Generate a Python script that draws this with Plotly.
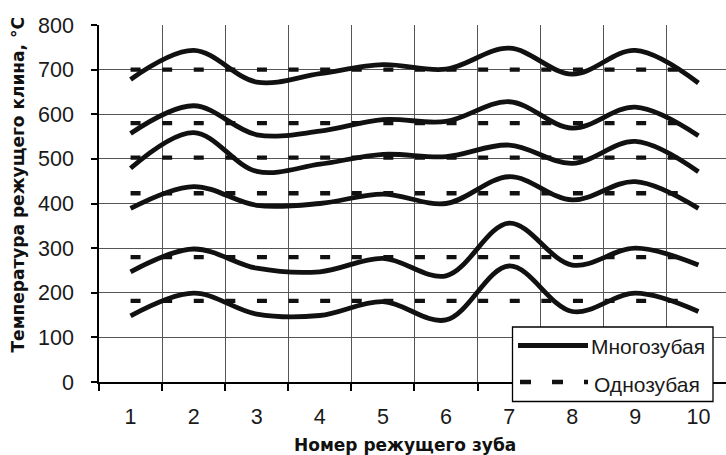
import plotly.graph_objects as go

# Tooth numbers along the x axis
teeth = [1, 2, 3, 4, 5, 6, 7, 8, 9, 10]
tick_labels = ["1", "2", "3", "4", "5", "6", "7", "8", "9", "10"]

# Multi-tooth cutter: cutting wedge temperature per tooth, six regimes (°C)
multi_a = [678, 743, 672, 691, 711, 701, 748, 690, 743, 670]
multi_b = [557, 619, 554, 562, 588, 584, 628, 569, 616, 552]
multi_c = [479, 559, 472, 488, 510, 505, 531, 490, 539, 471]
multi_d = [389, 438, 396, 400, 421, 400, 460, 408, 449, 389]
multi_e = [247, 298, 255, 247, 277, 238, 356, 262, 300, 262]
multi_f = [148, 199, 152, 149, 180, 139, 260, 158, 199, 158]

# Single-tooth cutter: same temperature for every tooth (°C)
single_levels = [700, 580, 503, 423, 280, 182]

y_ticks = [0, 100, 200, 300, 400, 500, 600, 700, 800]

W, H = 726, 455
ML, MR, MT, MB = 99, 0, 25, 73
PW, PH = W - ML - MR, H - MT - MB


def px(x):
    return (x - ML) / PW


def py(y):
    return (H - MB - y) / PH


INK = "#111111"
GRID = "#555555"

fig = go.Figure()

for level in single_levels:
    fig.add_trace(go.Scatter(
        x=teeth, y=[level] * len(teeth), mode="lines",
        line=dict(color=INK, width=4.3, dash="10px,21.6px"),
        showlegend=False, hoverinfo="skip"))

for series in [multi_a, multi_b, multi_c, multi_d, multi_e, multi_f]:
    fig.add_trace(go.Scatter(
        x=teeth, y=series, mode="lines",
        line=dict(color=INK, width=4.8, shape="spline", smoothing=1),
        showlegend=False, hoverinfo="skip"))

tick_font = dict(family="Liberation Sans, Arial", size=21.5, color="#1a1a1a")

fig.update_xaxes(
    range=[0.5, 10.437], tickvals=teeth, ticktext=tick_labels, ticks="",
    showgrid=False, zeroline=False,
    showline=True, linecolor="black", linewidth=1.5,
    minor=dict(tickvals=[0.5 + i for i in range(10)], ticks="outside",
               ticklen=7, tickwidth=1.5, tickcolor="black",
               showgrid=True, gridcolor=GRID, gridwidth=1.2),
    tickfont=tick_font, ticklabelstandoff=14)

fig.update_yaxes(
    range=[0, 800], tickvals=y_ticks, ticks="outside", ticklen=6,
    tickwidth=1.5, tickcolor="black",
    showgrid=True, gridcolor=GRID, gridwidth=1.2, zeroline=False,
    showline=True, linecolor="black", linewidth=1.5,
    tickfont=tick_font, ticklabelstandoff=13)

# Legend box drawn as shapes so the sample lines can be long
shapes = [
    dict(type="rect", xref="paper", yref="paper", layer="above",
         x0=px(512.5), x1=px(713), y0=py(401.5), y1=py(327),
         line=dict(color="black", width=1.3), fillcolor="white"),
    dict(type="line", xref="paper", yref="paper", layer="above",
         x0=px(518), x1=px(588), y0=py(345.5), y1=py(345.5),
         line=dict(color=INK, width=5)),
    dict(type="line", xref="paper", yref="paper", layer="above",
         x0=px(520), x1=px(588), y0=py(382), y1=py(382),
         line=dict(color=INK, width=4.3, dash="11px,21px")),
]

legend_font = dict(family="Liberation Sans, Arial", size=21, color="#1a1a1a")
title_font = dict(family="DejaVu Sans", size=17, color=INK, weight="bold")

annotations = [
    dict(text="Многозубая", xref="paper", yref="paper", x=px(589), y=py(346),
         xanchor="left", yanchor="middle", showarrow=False, font=legend_font),
    dict(text="Однозубая", xref="paper", yref="paper", x=px(592), y=py(384),
         xanchor="left", yanchor="middle", showarrow=False, font=legend_font),
    dict(text="Номер режущего зуба", xref="paper", yref="paper",
         x=px(405), y=py(445), xanchor="center", yanchor="middle",
         showarrow=False, font=title_font),
    dict(text="Температура режущего клина, °С", xref="paper", yref="paper",
         x=px(17.5), y=py(185), xanchor="center", yanchor="middle",
         textangle=-90, showarrow=False, font=title_font),
]

fig.update_layout(
    width=W, height=H,
    margin=dict(l=ML, r=MR, t=MT, b=MB),
    paper_bgcolor="white", plot_bgcolor="white",
    shapes=shapes, annotations=annotations,
    showlegend=False,
)

fig.write_html("out.html")
